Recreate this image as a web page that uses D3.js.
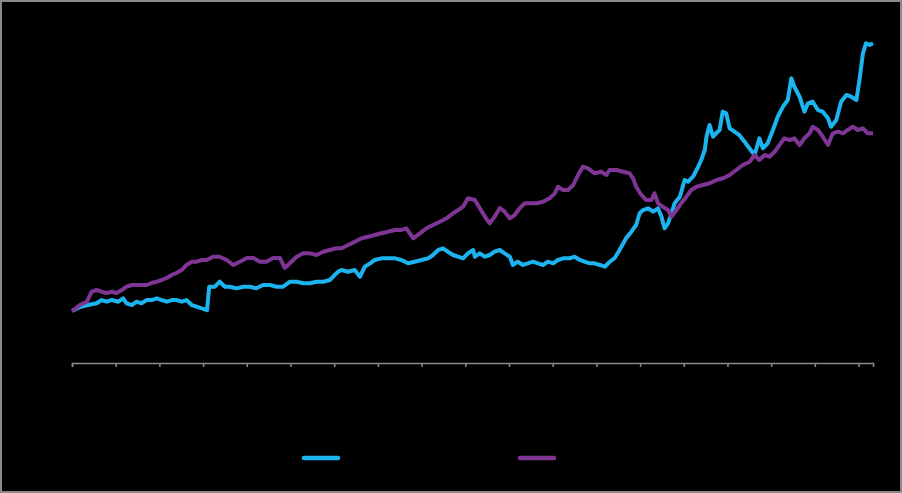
<!DOCTYPE html>
<html>
<head>
<meta charset="utf-8">
<script src="https://cdn.jsdelivr.net/npm/d3@7"></script>
<style>
  html, body { margin: 0; padding: 0; background: #000; }
  svg { display: block; }
</style>
</head>
<body>
<svg id="chart" width="902" height="493"></svg>
<script>
// colours of the two series
var cyanColor = "#1cb4ee";
var purpleColor = "#7e3593";

// year ticks along the bottom axis
var yearTicks = [2004, 2005, 2006, 2007, 2008, 2009, 2010, 2011, 2012, 2013,
                 2014, 2015, 2016, 2017, 2018, 2019, 2020, 2021, 2022];

// cyan series : dates (fraction of year) and index values (start = 100)
var cyanDates = [2004.00, 2004.18, 2004.37, 2004.56, 2004.68, 2004.79, 2004.91, 2005.06, 2005.17, 2005.25,
  2005.37, 2005.48, 2005.59, 2005.71, 2005.82, 2005.94, 2006.05, 2006.17, 2006.28, 2006.39,
  2006.51, 2006.62, 2006.74, 2006.85, 2006.97, 2007.09, 2007.14, 2007.27, 2007.38, 2007.50,
  2007.61, 2007.77, 2007.92, 2008.07, 2008.22, 2008.37, 2008.53, 2008.68, 2008.83, 2008.99,
  2009.14, 2009.29, 2009.44, 2009.60, 2009.75, 2009.90, 2010.01, 2010.09, 2010.17, 2010.32,
  2010.47, 2010.59, 2010.70, 2010.82, 2010.93, 2011.08, 2011.23, 2011.39, 2011.54, 2011.69,
  2011.84, 2012.00, 2012.15, 2012.26, 2012.38, 2012.49, 2012.60, 2012.72, 2012.83, 2012.95,
  2013.06, 2013.18, 2013.22, 2013.33, 2013.45, 2013.56, 2013.67, 2013.79, 2013.90, 2014.02,
  2014.09, 2014.20, 2014.32, 2014.43, 2014.55, 2014.66, 2014.78, 2014.89, 2015.01, 2015.12,
  2015.24, 2015.39, 2015.50, 2015.62, 2015.73, 2015.85, 2015.96, 2016.08, 2016.19, 2016.30,
  2016.42, 2016.53, 2016.68, 2016.80, 2016.91, 2016.99, 2017.07, 2017.18, 2017.30, 2017.41,
  2017.49, 2017.56, 2017.64, 2017.72, 2017.79, 2017.91, 2018.02, 2018.10, 2018.21, 2018.33,
  2018.40, 2018.48, 2018.52, 2018.59, 2018.67, 2018.74, 2018.82, 2018.89, 2018.97, 2019.05,
  2019.16, 2019.27, 2019.39, 2019.50, 2019.62, 2019.73, 2019.81, 2019.92, 2020.04, 2020.15,
  2020.27, 2020.38, 2020.46, 2020.53, 2020.65, 2020.76, 2020.84, 2020.95, 2021.07, 2021.18,
  2021.30, 2021.37, 2021.49, 2021.60, 2021.72, 2021.83, 2021.95, 2022.02, 2022.10, 2022.17,
  2022.25, 2022.33];
var cyanValues = [100.0, 107.7, 111.5, 114.8, 121.1, 117.9, 121.1, 117.9, 124.4, 114.8,
  111.5, 117.9, 114.8, 121.1, 121.1, 124.4, 121.1, 117.9, 121.1, 121.1,
  117.9, 121.1, 111.5, 108.3, 105.2, 101.5, 146.7, 146.7, 156.3, 146.7,
  146.7, 143.6, 146.7, 146.7, 143.6, 150.0, 150.0, 146.7, 146.7, 156.3,
  156.3, 153.3, 153.3, 156.3, 156.3, 159.6, 169.2, 175.6, 178.8, 175.6,
  178.8, 166.0, 185.2, 191.7, 198.1, 201.3, 201.3, 201.3, 198.1, 191.7,
  194.8, 198.1, 201.3, 207.7, 217.3, 220.6, 214.0, 207.7, 204.4, 201.3,
  210.9, 217.3, 204.4, 210.9, 204.4, 207.7, 214.0, 217.3, 210.9, 204.4,
  188.5, 194.8, 188.5, 191.7, 194.8, 191.7, 188.5, 194.8, 191.7, 198.1,
  201.3, 201.3, 204.4, 198.1, 194.8, 191.7, 191.7, 188.5, 185.2, 194.2,
  201.9, 217.3, 239.8, 252.5, 265.4, 287.9, 294.2, 297.5, 291.0, 297.5,
  281.3, 259.0, 268.6, 287.9, 307.1, 319.8, 351.9, 348.6, 358.2, 377.5,
  390.4, 409.6, 435.2, 457.7, 435.2, 441.7, 448.1, 483.3, 480.2, 451.3,
  444.8, 438.4, 425.6, 412.9, 400.0, 432.1, 412.9, 422.5, 448.1, 473.6,
  492.9, 505.7, 547.5, 531.3, 512.1, 483.3, 499.4, 502.5, 486.5, 483.3,
  470.6, 454.4, 467.3, 502.5, 515.4, 512.1, 505.7, 544.2, 595.6, 614.8,
  611.5, 614.8];

// purple series
var purpleDates = [2004.00, 2004.18, 2004.34, 2004.45, 2004.56, 2004.68, 2004.79, 2004.91, 2005.02, 2005.14,
  2005.25, 2005.37, 2005.48, 2005.59, 2005.71, 2005.82, 2005.94, 2006.05, 2006.17, 2006.28,
  2006.39, 2006.51, 2006.62, 2006.74, 2006.85, 2006.97, 2007.08, 2007.23, 2007.38, 2007.54,
  2007.69, 2007.84, 2008.00, 2008.15, 2008.30, 2008.45, 2008.60, 2008.76, 2008.87, 2008.99,
  2009.14, 2009.29, 2009.44, 2009.60, 2009.75, 2009.90, 2010.05, 2010.17, 2010.32, 2010.47,
  2010.63, 2010.78, 2010.93, 2011.08, 2011.23, 2011.39, 2011.54, 2011.65, 2011.81, 2011.96,
  2012.11, 2012.26, 2012.42, 2012.57, 2012.72, 2012.84, 2012.95, 2013.06, 2013.22, 2013.33,
  2013.45, 2013.56, 2013.67, 2013.79, 2013.90, 2014.02, 2014.13, 2014.25, 2014.36, 2014.47,
  2014.63, 2014.78, 2014.93, 2015.05, 2015.12, 2015.24, 2015.35, 2015.47, 2015.58, 2015.69,
  2015.81, 2015.96, 2016.11, 2016.23, 2016.30, 2016.46, 2016.61, 2016.76, 2016.84, 2016.91,
  2017.03, 2017.14, 2017.26, 2017.33, 2017.41, 2017.52, 2017.64, 2017.72, 2017.83, 2017.94,
  2018.06, 2018.17, 2018.29, 2018.44, 2018.59, 2018.75, 2018.90, 2019.05, 2019.20, 2019.35,
  2019.51, 2019.62, 2019.73, 2019.85, 2019.96, 2020.08, 2020.19, 2020.30, 2020.42, 2020.53,
  2020.65, 2020.76, 2020.88, 2020.95, 2021.07, 2021.18, 2021.30, 2021.41, 2021.53, 2021.64,
  2021.75, 2021.87, 2021.98, 2022.10, 2022.21, 2022.33];
var purpleValues = [100.0, 111.5, 117.9, 137.1, 140.4, 137.1, 134.6, 137.1, 134.6, 140.4,
  146.7, 150.0, 150.0, 150.0, 150.0, 153.8, 156.3, 159.6, 163.5, 169.2,
  173.1, 178.8, 188.5, 194.8, 194.8, 198.1, 198.1, 204.4, 204.4, 198.1,
  188.5, 194.8, 201.9, 201.9, 194.8, 194.8, 201.9, 201.9, 182.7, 192.3,
  204.4, 210.9, 210.9, 207.7, 214.0, 217.3, 220.6, 220.6, 226.9, 233.3,
  239.8, 242.9, 246.2, 249.4, 252.5, 255.8, 255.8, 259.0, 239.8, 249.4,
  259.0, 265.4, 271.7, 278.3, 287.9, 294.2, 300.6, 316.7, 313.4, 298.1,
  281.3, 268.6, 281.3, 298.1, 291.0, 278.3, 284.6, 298.1, 307.1, 307.1,
  307.1, 310.2, 316.7, 326.3, 339.0, 332.7, 332.7, 342.3, 361.5, 377.5,
  374.4, 364.8, 367.9, 361.5, 371.1, 371.1, 367.9, 364.8, 355.2, 339.0,
  323.1, 313.4, 313.4, 326.3, 307.1, 300.6, 294.2, 281.3, 294.2, 307.1,
  319.8, 332.7, 339.0, 342.3, 345.6, 351.9, 355.2, 361.5, 371.1, 380.8,
  387.1, 400.0, 390.4, 400.0, 396.7, 406.3, 419.2, 432.1, 428.8, 432.1,
  419.2, 432.1, 441.7, 454.4, 448.1, 435.2, 419.2, 441.7, 444.8, 441.7,
  448.1, 454.4, 448.1, 451.3, 441.7, 441.7];

var svg = d3.select("#chart");
var W = 902, H = 493;

// black backdrop with a thin grey frame
svg.append("rect")
  .attr("x", 1).attr("y", 1)
  .attr("width", W - 2).attr("height", H - 2)
  .attr("fill", "#000")
  .attr("stroke", "#8a8a8a")
  .attr("stroke-width", 2);

var x = d3.scaleLinear().domain([2004, 2022.33]).range([72, 873]);
var y = d3.scaleLinear().domain([0, 600]).range([363, 51]);

// bottom axis
var xAxis = d3.axisBottom(x)
  .tickValues(yearTicks)
  .tickFormat(d3.format("d"))
  .tickSizeOuter(0)
  .tickSize(4);

var gx = svg.append("g")
  .attr("transform", "translate(0," + y(0) + ")")
  .call(xAxis);
gx.select(".domain").attr("stroke", "#8a8a8a").attr("stroke-width", 1.5);
gx.selectAll(".tick line").attr("stroke", "#8a8a8a").attr("stroke-width", 1.5);
gx.selectAll(".tick text")
  .attr("fill", "#000")
  .attr("font-family", "Liberation Sans, Arial, sans-serif")
  .attr("font-size", 11);

var line = d3.line()
  .x(function(d) { return x(d[0]); })
  .y(function(d) { return y(d[1]); });

var cyanData = d3.zip(cyanDates, cyanValues);
var purpleData = d3.zip(purpleDates, purpleValues);

svg.append("path")
  .datum(cyanData)
  .attr("d", line)
  .attr("fill", "none")
  .attr("stroke", cyanColor)
  .attr("stroke-width", 4)
  .attr("stroke-linejoin", "round");

svg.append("path")
  .datum(purpleData)
  .attr("d", line)
  .attr("fill", "none")
  .attr("stroke", purpleColor)
  .attr("stroke-width", 4)
  .attr("stroke-linejoin", "round");

// legend swatches
var legend = [
  { color: cyanColor, x0: 304 },
  { color: purpleColor, x0: 520 }
];
svg.selectAll(".leg")
  .data(legend)
  .enter()
  .append("line")
    .attr("class", "leg")
    .attr("x1", function(d) { return d.x0; })
    .attr("x2", function(d) { return d.x0 + 34; })
    .attr("y1", 458)
    .attr("y2", 458)
    .attr("stroke", function(d) { return d.color; })
    .attr("stroke-width", 4.5)
    .attr("stroke-linecap", "round");
</script>
</body>
</html>
